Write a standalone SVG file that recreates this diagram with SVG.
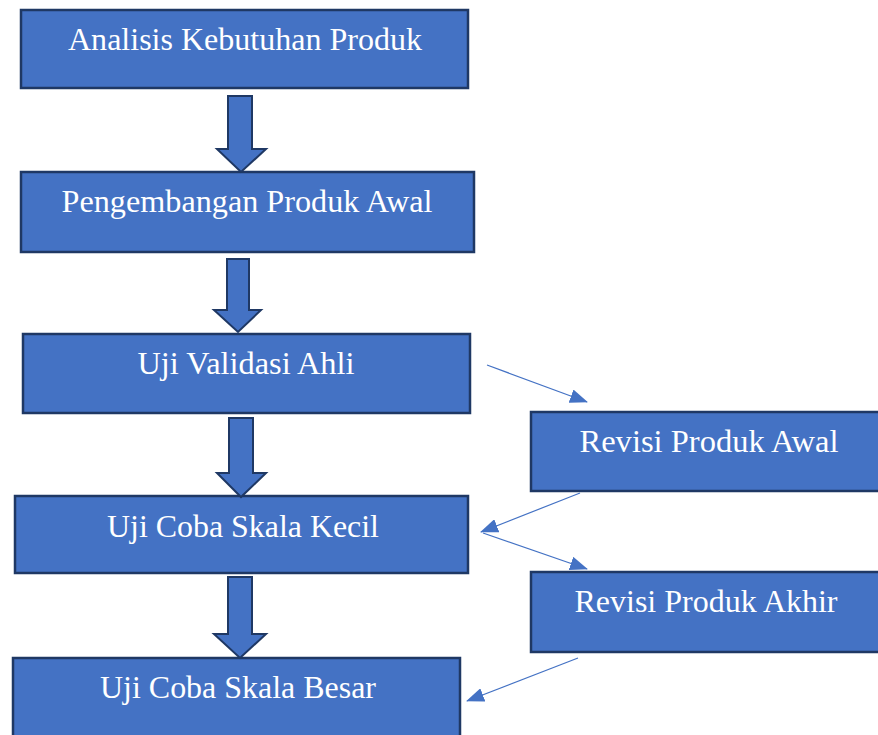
<svg xmlns="http://www.w3.org/2000/svg" width="878" height="735" viewBox="0 0 878 735">
<defs>
<style>
.box{fill:#4472C4;stroke:#1F3864;stroke-width:2.5}
.blk{fill:#4472C4;stroke:#1F3864;stroke-width:2;stroke-linejoin:miter}
.lbl{font-size:31.5px;fill:#ffffff;text-anchor:middle}
.ln{stroke:#4472C4;stroke-width:1.2;fill:none}
</style>
<marker id="ah" markerUnits="userSpaceOnUse" markerWidth="18" markerHeight="14" viewBox="0 0 18 14" refX="17" refY="7" orient="auto">
<path d="M0,0 L18,7 L0,14 Z" fill="#4472C4"/>
</marker>
</defs>
<rect width="878" height="735" fill="#ffffff"/>
<g font-family="'Liberation Serif', 'Times New Roman', Tinos, 'DejaVu Serif', serif">
<g id="n1"><rect class="box" x="21" y="10" width="447" height="78"/><text class="lbl" x="245" y="50" textLength="354" lengthAdjust="spacingAndGlyphs">Analisis Kebutuhan Produk</text></g>
<g id="n2"><rect class="box" x="21" y="172" width="453" height="80"/><text class="lbl" x="247" y="212" textLength="371" lengthAdjust="spacingAndGlyphs">Pengembangan Produk Awal</text></g>
<g id="n3"><rect class="box" x="23" y="334" width="447" height="79"/><text class="lbl" x="246" y="374" textLength="217" lengthAdjust="spacingAndGlyphs">Uji Validasi Ahli</text></g>
<g id="n4"><rect class="box" x="15" y="496" width="453" height="77"/><text class="lbl" x="243" y="537" textLength="272" lengthAdjust="spacingAndGlyphs">Uji Coba Skala Kecil</text></g>
<g id="n5"><rect class="box" x="13" y="658" width="447" height="90"/><text class="lbl" x="238" y="698" textLength="276" lengthAdjust="spacingAndGlyphs">Uji Coba Skala Besar</text></g>
<g id="n6"><rect class="box" x="531" y="412" width="360" height="79"/><text class="lbl" x="709" y="452" textLength="259" lengthAdjust="spacingAndGlyphs">Revisi Produk Awal</text></g>
<g id="n7"><rect class="box" x="531" y="572" width="360" height="80"/><text class="lbl" x="706" y="612" textLength="263" lengthAdjust="spacingAndGlyphs">Revisi Produk Akhir</text></g>
</g>
<g id="connectors">
<polygon class="blk" points="228,96 252,96 252,149 266,149 241,172 217,149 228,149"/>
<polygon class="blk" points="227,259 249,259 249,310 261,310 238,332 214,310 227,310"/>
<polygon class="blk" points="229,418 253,418 253,473 266,473 241,497 217,473 229,473"/>
<polygon class="blk" points="228,577 252,577 252,634 266,634 240,658 214,634 228,634"/>
<line class="ln" x1="487" y1="365" x2="587" y2="402" marker-end="url(#ah)"/>
<line class="ln" x1="580" y1="493" x2="481" y2="532" marker-end="url(#ah)"/>
<line class="ln" x1="483" y1="533" x2="587" y2="569" marker-end="url(#ah)"/>
<line class="ln" x1="578" y1="658" x2="467" y2="701" marker-end="url(#ah)"/>
</g>
</svg>
